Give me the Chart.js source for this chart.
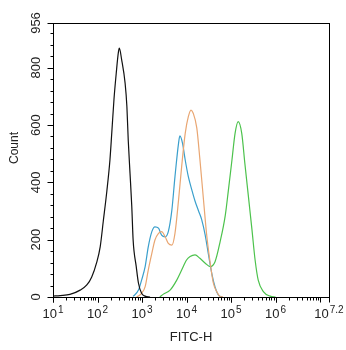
<!DOCTYPE html>
<html>
<head>
<meta charset="utf-8">
<script src="https://cdn.jsdelivr.net/npm/chart.js@4.4.0/dist/chart.umd.min.js"></script>
<style>
html,body{margin:0;padding:0;background:#fff;}
canvas{display:block;}
</style>
</head>
<body>
<canvas id="c" width="346" height="350"></canvas>
<script>
// x values are log10(FITC-H), y values are counts
const blackLog = [1.00,1.16,1.38,1.61,1.76,1.87,1.98,2.06,2.13,2.21,2.28,2.32,2.37,2.42,2.47,2.49,2.54,2.62,2.66,2.69,2.73,2.77,2.80,2.87,2.92,2.99,3.07,3.18];
const blackCount = [3,5,9,24,42,70,120,175,265,370,480,572,690,780,855,868,830,746,664,548,432,315,199,106,48,13,3,0];

const orangeLog = [2.88,2.99,3.07,3.14,3.22,3.29,3.37,3.44,3.52,3.59,3.67,3.74,3.82,3.89,3.97,4.04,4.10,4.15,4.23,4.30,4.38,4.45,4.53,4.60,4.68,4.75,4.82];
const orangeCount = [0,13,36,94,152,199,222,228,210,187,181,222,338,455,571,629,652,641,590,480,340,220,120,50,18,2,0];

const blueLog = [2.80,2.92,2.99,3.07,3.14,3.22,3.29,3.37,3.44,3.52,3.59,3.67,3.74,3.82,3.85,3.91,3.97,4.04,4.12,4.19,4.27,4.34,4.42,4.49,4.57,4.64,4.71,4.80];
const blueCount = [2,24,59,106,175,228,245,240,216,210,228,303,420,536,562,536,478,420,373,335,300,270,215,150,80,35,8,0];

const greenLog = [3.40,3.48,3.63,3.78,3.89,4.00,4.08,4.19,4.30,4.42,4.53,4.64,4.75,4.87,4.94,5.02,5.09,5.16,5.24,5.31,5.39,5.47,5.54,5.61,5.73,5.88,6.00];
const greenCount = [0,10,24,59,94,129,141,147,135,118,106,123,190,285,373,478,571,612,571,466,350,234,129,59,18,3,0];

const xTickValues = [1,2,3,4,5,6,7.2];
const xTickExps = ['1','2','3','4','5','6','7.2'];
const yTickValues = [0,200,400,600,800,956];
const yTickLabels = ['0','200','400','600','800','956'];
const xMin = 1, xMax = 7.2, yMin = 0, yMax = 956;
const yMinorStep = 40;
const xTitle = 'FITC-H';
const yTitle = 'Count';

function pts(xs, ys){ return xs.map((x,i)=>({x:x, y:ys[i]})); }

const FONT = '"Liberation Sans", Arial, sans-serif';

const axesPlugin = {
  id:'axesPlugin',
  afterDraw(chart){
    const ctx = chart.ctx, a = chart.chartArea;
    const xs = chart.scales.x, ys = chart.scales.y;
    ctx.save();
    ctx.strokeStyle = '#000';
    ctx.lineWidth = 1;
    // box
    const L = Math.round(a.left)+0.5, R = Math.round(a.right)+0.5, T = Math.round(a.top)+0.5, B = Math.round(a.bottom)+0.5;
    ctx.strokeRect(L, T, R-L, B-T);
    // y ticks
    ctx.beginPath();
    for(let v=yMin; v<=yMax; v+=yMinorStep){
      const p = Math.round(ys.getPixelForValue(v))+0.5;
      ctx.moveTo(L, p); ctx.lineTo(L-3, p);
    }
    yTickValues.forEach(v=>{
      const p = Math.round(ys.getPixelForValue(v))+0.5;
      ctx.moveTo(L, p); ctx.lineTo(L-6, p);
    });
    // x ticks
    for(let d=Math.floor(xMin); d<=Math.ceil(xMax); d++){
      for(let m=1; m<=9; m++){
        const v = d + Math.log10(m);
        if(v < xMin-1e-9 || v > xMax+1e-9) continue;
        const p = Math.round(xs.getPixelForValue(v))+0.5;
        ctx.moveTo(p, B); ctx.lineTo(p, B + (m===1 ? 5 : 3));
      }
    }
    xTickValues.forEach(v=>{
      const p = Math.round(xs.getPixelForValue(v))+0.5;
      ctx.moveTo(p, B); ctx.lineTo(p, B+5);
    });
    ctx.stroke();

    ctx.fillStyle = '#222';
    // y labels rotated
    ctx.font = '13px ' + FONT;
    ctx.textAlign = 'center';
    ctx.textBaseline = 'middle';
    yTickValues.forEach((v,i)=>{
      const p = ys.getPixelForValue(v);
      ctx.save();
      ctx.translate(36, p);
      ctx.rotate(-Math.PI/2);
      ctx.fillText(yTickLabels[i], 0, 0);
      ctx.restore();
    });
    // x labels 10^n
    ctx.textBaseline = 'alphabetic';
    ctx.textAlign = 'left';
    xTickValues.forEach((v,i)=>{
      const p = xs.getPixelForValue(v);
      ctx.font = '13px ' + FONT;
      const wBase = ctx.measureText('10').width;
      ctx.font = '10px ' + FONT;
      const wExp = ctx.measureText(xTickExps[i]).width;
      const total = wBase + 1 + wExp;
      const x0 = p - total/2;
      ctx.font = '13px ' + FONT;
      ctx.fillText('10', x0, 318);
      ctx.font = '10px ' + FONT;
      ctx.fillText(xTickExps[i], x0 + wBase + 1, 313);
    });
    // titles
    ctx.font = '13px ' + FONT;
    ctx.textAlign = 'center';
    ctx.textBaseline = 'middle';
    ctx.fillText(xTitle, (a.left+a.right)/2, 337);
    ctx.save();
    ctx.font = '12px ' + FONT;
    ctx.translate(15, 148);
    ctx.rotate(-Math.PI/2);
    ctx.fillText(yTitle, 0, 0);
    ctx.restore();
    ctx.restore();
  }
};

function ds(data, color){
  return {data:data, borderColor:color, borderWidth:1.2, pointRadius:0, fill:false,
          cubicInterpolationMode:'monotone', tension:0.4};
}

new Chart(document.getElementById('c'), {
  type:'line',
  data:{
    datasets:[
      ds(pts(blackLog, blackCount), '#111111'),
      ds(pts(orangeLog, orangeCount), '#e9a672'),
      ds(pts(blueLog, blueCount), '#3a9fcc'),
      ds(pts(greenLog, greenCount), '#4cc24c')
    ]
  },
  options:{
    responsive:false,
    animation:false,
    devicePixelRatio:1,
    layout:{padding:{left:53, top:23, right:17, bottom:53}},
    plugins:{legend:{display:false}, tooltip:{enabled:false}},
    scales:{
      x:{type:'linear', min:xMin, max:xMax, display:false},
      y:{type:'linear', min:yMin, max:yMax, display:false}
    }
  },
  plugins:[axesPlugin]
});
</script>
</body>
</html>
